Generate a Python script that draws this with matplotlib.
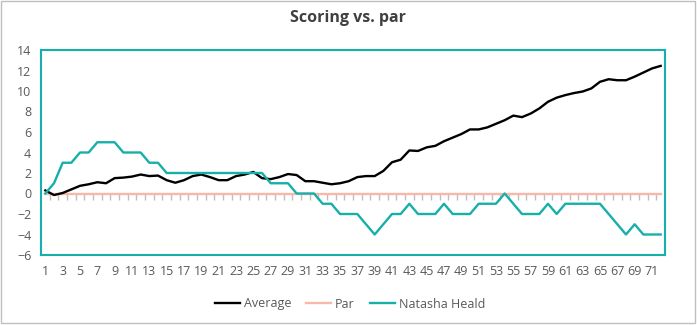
import matplotlib.pyplot as plt
import numpy as np
from matplotlib.patches import Rectangle

holes = list(range(1, 73))
average = [0.3, -0.15, 0.05, 0.4, 0.75, 0.9, 1.1, 1.0, 1.5, 1.55,
           1.65, 1.85, 1.7, 1.75, 1.3, 1.05, 1.3, 1.7, 1.85, 1.6,
           1.3, 1.3, 1.7, 1.85, 2.1, 1.5, 1.4, 1.6, 1.9, 1.8,
           1.2, 1.2, 1.05, 0.9, 1.0, 1.2, 1.6, 1.7, 1.7, 2.2,
           3.05, 3.3, 4.2, 4.15, 4.5, 4.65, 5.1, 5.45, 5.8, 6.25,
           6.25, 6.45, 6.8, 7.15, 7.6, 7.45, 7.8, 8.3, 8.95, 9.35,
           9.6, 9.8, 9.95, 10.25, 10.9, 11.15, 11.05, 11.05, 11.4, 11.8,
           12.2, 12.45]
par = [0] * 72
natasha = [0, 1, 3, 3, 4, 4, 5, 5, 5, 4,
           4, 4, 3, 3, 2, 2, 2, 2, 2, 2,
           2, 2, 2, 2, 2, 2, 1, 1, 1, 0,
           0, 0, -1, -1, -2, -2, -2, -3, -4, -3,
           -2, -2, -1, -2, -2, -2, -1, -2, -2, -2,
           -1, -1, -1, 0, -1, -2, -2, -2, -1, -2,
           -1, -1, -1, -1, -1, -2, -3, -4, -3, -4,
           -4, -4]

teal = "#17AFA9"
grey_text = "#595959"

plt.rcParams['font.family'] = ['Open Sans', 'DejaVu Sans']

fig = plt.figure(figsize=(6.97, 3.25), dpi=100)
ax = fig.add_axes([41 / 697, 1 - 255 / 325, 624 / 697, 205 / 325])

x = np.arange(len(holes))
ax.plot(x, average, color="black", lw=1.7, label="Average", zorder=3)
ax.plot(x, par, color="#F7B8AA", lw=1.7, label="Par", zorder=2)
ax.plot(x, natasha, color=teal, lw=1.7, label="Natasha Heald", zorder=4)

ymin, ymax = -6, 14
ax.set_xlim(-0.5, len(holes) - 0.5)
ax.set_ylim(ymin, ymax)
ax.set_yticks(range(ymin, ymax + 1, 2))
ax.set_xticks(x[::2])
ax.set_xticklabels(holes[::2])
ax.tick_params(length=0, labelsize=9, colors=grey_text)
ax.tick_params(axis="y", pad=7)
ax.tick_params(axis="x", pad=7)
for s in ax.spines.values():
  s.set_color(teal)
  s.set_linewidth(1.5)

# category tick marks along the zero line
sec = ax.secondary_xaxis((0 - ymin) / (ymax - ymin))
sec.set_xticks(np.arange(0.5, len(holes) - 1, 1))
sec.tick_params(direction="out", length=4, color="#BFBFBF", labelbottom=False, width=1)
sec.spines["bottom"].set_visible(False)

fig.text(0.5, 1 - 18 / 325, "Scoring vs. par", ha="center", va="center",
         fontsize=11.5, fontweight="bold", color="#404040")

leg = fig.legend(loc="center", bbox_to_anchor=(350 / 697, 1 - 304 / 325), ncol=3,
                 frameon=False, fontsize=9, handlelength=2.0, columnspacing=1.2,
                 handletextpad=0.3)
for t in leg.get_texts():
  t.set_color(grey_text)

fig.add_artist(Rectangle((0.5 / 697, 2 / 325), 694 / 697, 322 / 325,
                         transform=fig.transFigure, fill=False,
                         edgecolor="#BFBFBF", lw=1))

plt.savefig("out.png", dpi=100)
